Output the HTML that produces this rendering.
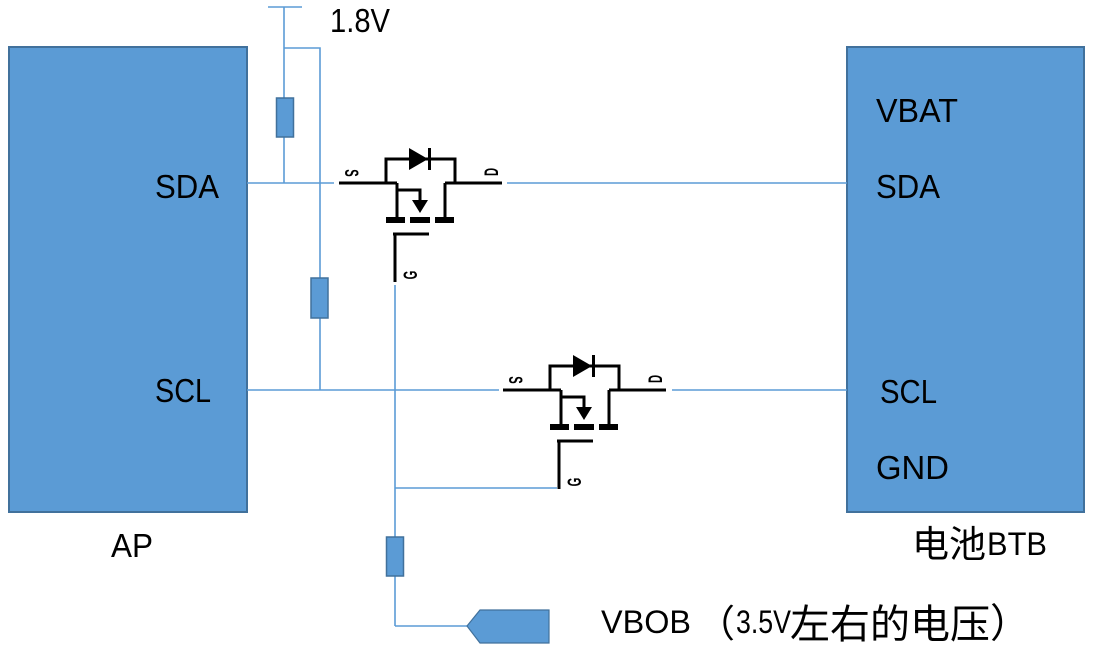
<!DOCTYPE html>
<html>
<head>
<meta charset="utf-8">
<style>
  html,body{margin:0;padding:0;background:#fff;}
  svg{display:block;}
  .t{font-family:"Liberation Sans","Noto Sans CJK SC",sans-serif;fill:#000;}
  .c{font-family:"Noto Sans CJK SC","WenQuanYi Zen Hei",sans-serif;fill:#000;}
  .p{font-family:"Liberation Sans",sans-serif;fill:#000;font-weight:bold;}
</style>
</head>
<body>
<svg width="1093" height="648" viewBox="0 0 1093 648" xmlns="http://www.w3.org/2000/svg">
  <!-- Boxes -->
  <rect x="9" y="47" width="238" height="465" fill="#5B9BD5" stroke="#41719C" stroke-width="2"/>
  <rect x="847" y="47" width="237" height="465" fill="#5B9BD5" stroke="#41719C" stroke-width="2"/>

  <!-- Blue wires -->
  <g stroke="#5B9BD5" stroke-width="1.6" fill="none">
    <line x1="268" y1="7" x2="302" y2="7"/>
    <line x1="284" y1="7" x2="284" y2="183"/>
    <polyline points="284,48 320,48 320,390"/>
    <line x1="247" y1="183" x2="334" y2="183"/>
    <line x1="507" y1="183" x2="847" y2="183"/>
    <line x1="247" y1="390" x2="499" y2="390"/>
    <line x1="672" y1="390" x2="847" y2="390"/>
    <line x1="395" y1="285" x2="395" y2="626"/>
    <line x1="395" y1="488" x2="557" y2="488"/>
    <line x1="395" y1="626" x2="467" y2="626"/>
  </g>

  <!-- Resistors -->
  <g fill="#5B9BD5" stroke="#41719C" stroke-width="1.5">
    <rect x="276.5" y="98" width="17" height="39"/>
    <rect x="311" y="278" width="17" height="40"/>
    <rect x="386.5" y="537" width="17" height="39"/>
  </g>

  <!-- VBOB connector -->
  <polygon points="467,626 480,610 549,610 549,643 480,643" fill="#5B9BD5" stroke="#41719C" stroke-width="1.2"/>

  <!-- MOSFET 1 -->
  <g>
    <g stroke="#000" stroke-width="3" fill="none">
      <line x1="339" y1="183" x2="397" y2="183"/>
      <polyline points="386,183 386,159 455,159 455,183"/>
      <line x1="445" y1="183" x2="502" y2="183"/>
      <line x1="397" y1="183" x2="397" y2="218"/>
      <polyline points="397,190 420,190 420,202"/>
      <line x1="445" y1="183" x2="445" y2="218"/>
      <polyline points="393,234 429,234"/>
      <line x1="395" y1="234" x2="395" y2="282"/>
    </g>
    <polygon points="409,148 409,170 428,159" fill="#000"/>
    <rect x="428" y="148" width="3" height="22" fill="#000"/>
    <polygon points="412,200 428,200 420,213" fill="#000"/>
    <rect x="386" y="217" width="19" height="6" fill="#000"/>
    <rect x="410" y="217" width="20" height="6" fill="#000"/>
    <rect x="435" y="217" width="19" height="6" fill="#000"/>
    <text class="p" font-size="14" text-anchor="middle" transform="translate(345,173) rotate(90) scale(0.8,1.4)">S</text>
    <text class="p" font-size="14" text-anchor="middle" transform="translate(498,172) rotate(-90) scale(0.8,1.4)">D</text>
    <text class="p" font-size="14" text-anchor="middle" transform="translate(417,275) rotate(-90) scale(0.8,1.4)">G</text>
  </g>
  <!-- MOSFET 2 -->
  <g transform="translate(164,207)">
    <g stroke="#000" stroke-width="3" fill="none">
      <line x1="339" y1="183" x2="397" y2="183"/>
      <polyline points="386,183 386,159 455,159 455,183"/>
      <line x1="445" y1="183" x2="502" y2="183"/>
      <line x1="397" y1="183" x2="397" y2="218"/>
      <polyline points="397,190 420,190 420,202"/>
      <line x1="445" y1="183" x2="445" y2="218"/>
      <polyline points="393,234 429,234"/>
      <line x1="395" y1="234" x2="395" y2="282"/>
    </g>
    <polygon points="409,148 409,170 428,159" fill="#000"/>
    <rect x="428" y="148" width="3" height="22" fill="#000"/>
    <polygon points="412,200 428,200 420,213" fill="#000"/>
    <rect x="386" y="217" width="19" height="6" fill="#000"/>
    <rect x="410" y="217" width="20" height="6" fill="#000"/>
    <rect x="435" y="217" width="19" height="6" fill="#000"/>
    <text class="p" font-size="14" text-anchor="middle" transform="translate(345,173) rotate(90) scale(0.8,1.4)">S</text>
    <text class="p" font-size="14" text-anchor="middle" transform="translate(498,172) rotate(-90) scale(0.8,1.4)">D</text>
    <text class="p" font-size="14" text-anchor="middle" transform="translate(417,275) rotate(-90) scale(0.8,1.4)">G</text>
  </g>

  <!-- Labels -->
  <text class="t" x="330" y="32" font-size="33" textLength="60" lengthAdjust="spacingAndGlyphs">1.8V</text>
  <text class="t" x="155" y="198" font-size="33" textLength="64" lengthAdjust="spacingAndGlyphs">SDA</text>
  <text class="t" x="155" y="402" font-size="33" textLength="56" lengthAdjust="spacingAndGlyphs">SCL</text>
  <text class="t" x="111" y="557" font-size="33" textLength="42" lengthAdjust="spacingAndGlyphs">AP</text>
  <text class="t" x="876" y="122" font-size="33" textLength="82" lengthAdjust="spacingAndGlyphs">VBAT</text>
  <text class="t" x="876" y="198" font-size="33" textLength="64" lengthAdjust="spacingAndGlyphs">SDA</text>
  <text class="t" x="880" y="403" font-size="33" textLength="57" lengthAdjust="spacingAndGlyphs">SCL</text>
  <text class="t" x="876" y="479" font-size="33" textLength="73" lengthAdjust="spacingAndGlyphs">GND</text>

  <text class="c" x="912" y="557" font-size="37" textLength="74" lengthAdjust="spacingAndGlyphs">电池</text>
  <text class="t" x="987" y="555" font-size="32" textLength="60" lengthAdjust="spacingAndGlyphs">BTB</text>

  <text class="t" x="601" y="633" font-size="32" textLength="90" lengthAdjust="spacingAndGlyphs">VBOB</text>
  <text class="c" x="697" y="637" font-size="38">（</text>
  <text class="t" x="736" y="633" font-size="32" textLength="55" lengthAdjust="spacingAndGlyphs">3.5V</text>
  <text class="c" x="790" y="638" font-size="40" textLength="200" lengthAdjust="spacingAndGlyphs">左右的电压</text>
  <text class="c" x="990" y="637" font-size="40">）</text>
</svg>
</body>
</html>
